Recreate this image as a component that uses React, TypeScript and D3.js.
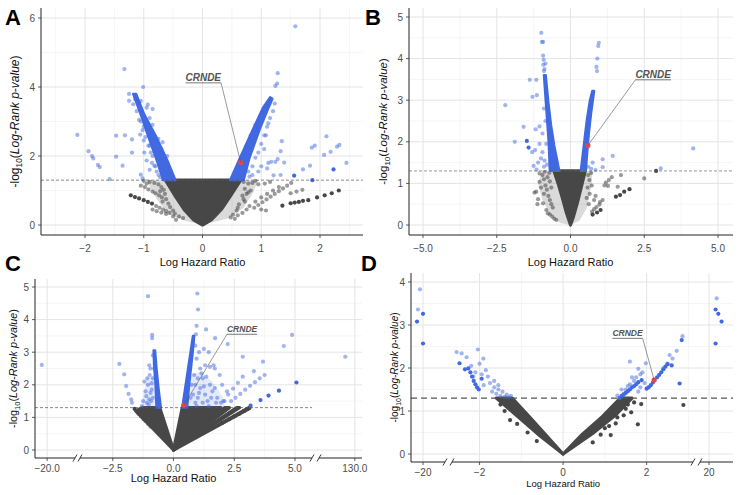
import React from 'react';
import * as d3 from 'd3';

type P = [number, number];

// ---------------- Panel A data ----------------
const aGrayCore: P[][] = [[[0, 0], [-0.15, 0.15], [-0.3, 0.42], [-0.45, 0.8], [-0.63, 1.3], [0.65, 1.3], [0.48, 0.85], [0.32, 0.45], [0.15, 0.15]]];
const aGrayHalo: P[][] = [
  [[0, 0], [-0.3, 0.12], [-0.55, 0.3], [-0.72, 0.6], [-0.85, 0.95], [-0.95, 1.3], [-0.63, 1.3]],
  [[0, 0], [0.65, 1.3], [0.95, 1.3], [0.85, 0.9], [0.7, 0.5], [0.45, 0.2]],
];
const aBlueArms: P[][] = [
  [[-0.67, 1.3], [-0.78, 1.88], [-0.93, 2.6], [-1.05, 3.2], [-1.18, 3.8], [-1.13, 3.8], [-0.99, 3.2], [-0.8, 2.6], [-0.6, 1.88], [-0.46, 1.3]],
  [[0.47, 1.3], [0.62, 1.88], [0.84, 2.7], [1.03, 3.4], [1.15, 3.7], [1.19, 3.66], [1.1, 3.3], [0.98, 2.8], [0.8, 1.95], [0.7, 1.3]],
];
const aBlueHalo: P[][] = [];
const aGrayPts: P[] = [
  [-1.05, 1.14], [-0.98, 1.1], [-0.92, 1.03], [-0.85, 0.97], [-0.8, 0.92], [-0.74, 0.86], [-0.69, 0.8],
  [-0.9, 1.25], [-0.82, 1.22], [-0.75, 1.18], [-0.7, 1.1], [-0.66, 1.02], [-0.72, 0.98], [-0.64, 0.9], [-0.62, 0.75],
  [-0.68, 0.68], [-0.58, 0.62], [-0.55, 0.52], [-0.5, 0.42], [-0.47, 0.33], [-0.4, 0.25], [-0.33, 0.2], [-0.5, 0.25],
  [-0.56, 0.35], [-0.62, 0.32], [-0.45, 0.15], [-0.85, 0.45], [-0.78, 0.4], [-0.7, 0.36], [-0.79, 0.55], [-0.73, 0.5],
  [-0.67, 0.45], [-0.62, 0.4], [-1.0, 1.28], [-0.95, 1.2],
  [0.7, 1.25], [0.78, 1.2], [0.85, 1.22], [0.9, 1.28], [0.95, 1.18], [0.72, 1.05], [0.78, 0.95], [0.75, 0.9],
  [0.82, 1.0], [0.68, 0.85], [0.7, 0.75], [0.72, 0.68], [0.62, 0.6], [0.6, 0.5], [0.58, 0.42], [0.52, 0.3],
  [0.48, 0.22], [0.6, 0.28], [0.68, 0.35], [0.75, 0.45], [0.8, 0.55], [0.9, 0.68], [0.55, 0.18],
  [0.88, 0.5], [0.95, 0.58], [1.02, 0.66], [1.09, 0.74], [1.16, 0.82], [1.23, 0.9], [1.3, 0.98], [1.37, 1.06],
  [1.44, 1.14], [1.51, 1.22], [1.0, 0.8], [1.1, 0.9], [1.2, 1.0], [1.3, 1.1], [1.08, 0.42], [1.0, 0.45],
  [1.5, 0.92], [1.6, 0.97], [1.7, 1.02], [1.06, 1.2], [1.15, 1.25],
];
const aGrayDark: P[] = [
  [-1.22, 0.86], [-1.15, 0.81], [-1.08, 0.77], [-1.0, 0.72], [-0.93, 0.67], [-0.86, 0.62],
  [1.36, 0.56], [1.5, 0.63], [1.57, 0.65], [1.64, 0.67], [1.71, 0.7], [1.8, 0.72], [1.95, 0.8], [2.08, 0.86], [2.2, 0.92], [2.32, 1.0],
];
const aBluePts: P[] = [
  [-2.13, 2.61], [-1.94, 2.14], [-1.88, 2.0], [-1.86, 1.93], [-1.78, 1.74], [-1.75, 1.68], [-1.58, 1.33], [-1.47, 2.59],
  [-1.47, 1.98], [-1.36, 1.72], [-1.33, 4.52], [-1.32, 2.6], [-1.2, 2.48], [-1.2, 2.1], [-1.01, 4.0], [-1.06, 2.62],
  [-1.05, 1.46], [-1.02, 1.35], [-0.93, 3.49], [-0.85, 3.36], [-0.95, 1.87], [-0.9, 1.6], [-1.15, 3.65], [-1.25, 3.8],
  [-1.08, 3.55], [-0.99, 2.1], [-0.9, 2.3], [-0.85, 2.0], [-0.82, 1.72], [-0.78, 1.55], [-0.75, 1.45], [-0.72, 1.38],
  [-0.86, 1.8], [-1.0, 2.45], [-1.02, 2.75], [-1.08, 3.05], [-0.68, 2.4], [-0.6, 2.0], [-0.55, 1.6],
  [-1.25, 3.6], [-1.18, 3.5], [-1.12, 3.3], [-1.05, 3.0], [-1.0, 2.85], [-0.97, 2.55], [-0.92, 2.3], [-0.88, 2.1],
  [-0.8, 1.7], [-0.7, 2.2], [-0.75, 2.5], [-0.85, 2.9], [-0.9, 3.1], [-0.95, 3.4], [-1.05, 3.6],
  [1.58, 5.76], [1.28, 4.4], [1.27, 4.1], [1.24, 4.03], [1.35, 2.43], [1.33, 2.14], [1.39, 1.81], [1.28, 1.91],
  [1.24, 1.83], [1.17, 1.83], [1.12, 1.8], [1.1, 1.64], [1.21, 1.44], [1.33, 1.45], [1.71, 1.61], [1.83, 1.72],
  [1.86, 2.24], [1.91, 2.3], [2.07, 2.03], [2.11, 2.57], [2.18, 2.12], [2.29, 2.27], [2.33, 2.32], [2.45, 1.8],
  [1.0, 1.7], [0.95, 1.55], [0.85, 1.45], [0.9, 1.95], [1.05, 2.2], [1.08, 2.6], [1.12, 2.95], [1.2, 3.3],
  [1.23, 3.52], [0.8, 1.4], [0.78, 1.55], [0.75, 2.3], [0.9, 2.8],
  [0.55, 1.5], [0.62, 1.75], [0.68, 2.0], [0.82, 2.6], [0.9, 2.9], [0.98, 3.15], [1.05, 3.35], [0.85, 1.7],
  [0.95, 2.1], [1.0, 2.35], [1.05, 2.6], [1.1, 2.85], [1.15, 3.1],
];
const aBlueDark: P[] = [[1.56, 1.43], [2.23, 1.61], [1.87, 1.3]];
const aCrnde: P = [0.65, 1.81];
const aLabel: P = [-0.29, 4.12];
const aXTicks = [-2, -1, 0, 1, 2];
const aXLabels = ['−2', '−1', '0', '1', '2'];
const aXMinor = [-2.5, -1.5, -0.5, 0.5, 1.5, 2.5];
const aYTicks = [0, 2, 4, 6];
const aYMinor = [1, 3, 5];

// ---------------- Panel B data ----------------
const bGrayCore: P[][] = [[[0, 0], [-0.14, 0.3], [-0.28, 0.66], [-0.42, 1.0], [-0.56, 1.3], [0.5, 1.3], [0.38, 0.95], [0.24, 0.55], [0.1, 0.2]]];
const bGrayHalo: P[][] = [
  [[0, 0], [-0.56, 1.3], [-0.95, 1.3], [-1.1, 1.0], [-0.95, 0.6], [-0.7, 0.25], [-0.35, 0.05]],
  [[0, 0], [0.5, 1.3], [0.75, 1.3], [0.7, 0.9], [0.55, 0.4], [0.3, 0.1]],
];
const bBlueArms: P[][] = [
  [[-0.7, 1.3], [-0.74, 2.0], [-0.8, 2.6], [-0.86, 3.2], [-0.9, 3.6], [-0.84, 3.6], [-0.76, 3.0], [-0.66, 2.4], [-0.55, 1.9], [-0.38, 1.3]],
  [[0.35, 1.3], [0.45, 1.9], [0.55, 2.5], [0.66, 3.0], [0.74, 3.22], [0.8, 3.22], [0.7, 2.7], [0.62, 2.2], [0.56, 1.7], [0.52, 1.3]],
];
const bBlueHalo: P[][] = [];
const bGrayPts: P[] = [
  [-1.16, 0.8], [-1.05, 1.04], [-1.22, 0.78], [-0.93, 0.52], [-0.82, 0.36], [-0.7, 0.25], [-0.48, 0.12], [-1.05, 1.24],
  [-0.95, 1.2], [-0.9, 1.1], [-0.85, 0.95], [-0.8, 0.85], [-0.75, 0.7], [-0.7, 0.6], [-0.65, 0.5], [-0.6, 0.42],
  [-0.9, 0.75], [-1.0, 0.9], [-0.77, 0.28], [-0.62, 0.2], [-0.55, 0.15], [-0.78, 1.15], [-0.7, 1.05], [-0.65, 0.9],
  [-0.88, 1.28], [-0.72, 1.25], [-1.1, 0.62], [-1.12, 0.5],
  [0.64, 1.08], [0.6, 1.2], [0.7, 1.25], [0.58, 0.9], [0.65, 0.75], [0.55, 0.65], [0.72, 0.95], [1.09, 0.6],
  [1.0, 0.55], [1.3, 1.08], [1.27, 0.94], [1.6, 0.92], [1.71, 1.2], [2.5, 1.12], [0.73, 0.32], [0.8, 0.38],
  [0.88, 0.43], [0.98, 0.49], [0.62, 0.5], [0.85, 0.7], [0.8, 0.6], [1.15, 0.95], [1.2, 1.02], [1.4, 1.15],
];
const bGrayDark: P[] = [[1.54, 0.68], [1.68, 0.72], [1.82, 0.8], [2.0, 0.86], [2.9, 1.3], [0.75, 0.25], [0.9, 0.3], [1.02, 0.36]];
const bBluePts: P[] = [
  [-0.99, 4.62], [-0.97, 4.4], [-0.93, 4.4], [-0.93, 4.07], [-0.91, 3.97], [-0.85, 3.88], [-0.88, 3.75], [-0.9, 3.7],
  [-0.92, 3.85], [-1.38, 3.49], [-1.16, 3.49],
  [-1.29, 3.08], [-1.14, 3.12], [-2.21, 2.88], [-1.59, 2.36], [-1.89, 2.0], [-1.2, 1.8], [-1.05, 2.37],
  [-0.95, 2.2], [-1.1, 1.5], [-1.25, 1.42], [-1.0, 1.6], [-0.95, 1.75], [-1.05, 1.95], [-0.88, 1.55], [-0.9, 1.4],
  [-0.85, 2.5], [-0.9, 2.8], [-0.82, 1.95], [-1.18, 2.3], [-1.3, 1.75], [-0.8, 1.45], [-1.15, 1.33],
  [0.96, 4.38], [0.94, 4.3], [0.91, 4.0], [0.88, 3.8], [0.9, 3.7], [1.09, 1.58], [1.09, 1.39], [1.43, 1.66],
  [3.06, 1.36], [4.16, 1.84], [0.6, 1.4], [0.75, 1.5], [0.7, 1.35], [0.85, 1.32],
];
const bBlueDark: P[] = [[-1.48, 2.02], [-1.42, 1.86]];
const bCrnde: P = [0.59, 1.91];
const bLabel: P = [2.2, 3.49];
const bXTicks = [-5, -2.5, 0, 2.5, 5];
const bXLabels = ['−5.0', '−2.5', '0.0', '2.5', '5.0'];
const bXMinor = [-3.75, -1.25, 1.25, 3.75];
const bYTicks = [0, 1, 2, 3, 4, 5];
const bYMinor = [0.5, 1.5, 2.5, 3.5, 4.5];

// ---------------- Panel C data ----------------
const cGrayCore: P[][] = [
  [[0, 0], [-1.55, 1.2], [-1.3, 1.3], [-0.57, 1.3]],
  [[0, 0], [0.36, 1.3], [1.95, 1.3]],
  [[0, 0], [2.1, 1.3], [2.3, 1.3]],
  [[0, 0], [2.6, 1.3], [2.72, 1.3]],
  [[0, 0], [3.1, 1.3], [3.14, 1.28]],
];
const cGrayHalo: P[][] = [];
const cBlueArms: P[][] = [
  [[-0.7, 1.3], [-0.74, 2.0], [-0.8, 2.6], [-0.82, 3.05], [-0.76, 3.05], [-0.7, 2.5], [-0.62, 1.9], [-0.52, 1.3]],
  [[0.36, 1.3], [0.5, 2.0], [0.62, 2.6], [0.72, 3.1], [0.8, 3.5], [0.85, 3.5], [0.79, 3.0], [0.7, 2.4], [0.63, 1.9], [0.56, 1.3]],
];
const cBlueHalo: P[][] = [
  [[-1.3, 1.3], [-1.25, 1.7], [-1.1, 2.2], [-0.75, 2.3], [-0.62, 1.3]],
  [[0.6, 1.3], [0.7, 2.3], [1.1, 2.4], [1.6, 2.1], [2.05, 1.6], [2.1, 1.3]],
];
const cGrayPts: P[] = [
  [-1.45, 1.12], [-1.35, 1.04], [-1.25, 0.96], [-1.15, 0.88], [-1.05, 0.8], [-0.95, 0.72], [-1.5, 1.18],
];
const cGrayDark: P[] = [
  [-1.6, 1.26], [-1.52, 1.19], [-1.42, 1.11], [-1.32, 1.03], [-1.22, 0.95],
  [2.0, 0.83], [2.3, 0.95], [2.5, 1.03], [2.7, 1.11], [2.9, 1.2], [3.05, 1.26],
];
const cBluePts: P[] = [
  [-20.22, 2.61], [-1.05, 4.72], [-2.23, 2.64], [-2.03, 2.32], [-1.95, 1.96], [-1.85, 1.72], [-1.74, 1.55], [-1.71, 1.45],
  [-0.88, 3.53], [-0.88, 3.43], [0.98, 4.8], [1.01, 4.31], [0.95, 3.81], [1.34, 3.7], [1.71, 3.43], [2.23, 3.25],
  [2.85, 2.86], [3.31, 2.42], [3.68, 2.71], [4.54, 3.19], [4.88, 3.53], [129.6, 2.86],
  [-1.25, 1.5], [-1.15, 1.8], [-1.2, 2.1], [-1.05, 2.0], [-0.95, 1.75], [-1.1, 1.45], [-0.98, 2.3], [-0.9, 2.05],
  [-1.0, 1.55], [-0.85, 1.6], [-0.9, 1.85], [-1.3, 1.35], [-0.8, 2.5], [-0.95, 2.5], [-1.0, 2.6], [-0.85, 2.9],
  [-1.12, 1.65], [-1.02, 1.4], [-0.92, 1.5], [-0.85, 2.2], [-1.08, 2.2],
  [0.8, 1.7], [0.9, 2.0], [1.0, 1.6], [1.1, 1.9], [1.2, 2.2], [1.3, 1.7], [1.4, 1.5], [1.5, 2.0], [1.6, 1.8],
  [1.7, 2.5], [1.8, 1.6], [1.9, 2.3], [2.0, 2.0], [1.3, 2.6], [1.1, 2.5], [0.95, 2.8], [1.5, 2.55], [1.65, 2.6],
  [1.2, 1.45], [0.85, 2.3], [1.05, 3.0], [0.9, 3.2], [1.15, 2.35], [2.1, 1.5], [2.2, 1.8], [1.45, 3.0], [1.25, 3.1],
  [1.0, 2.2], [0.75, 2.0], [0.7, 1.6], [0.8, 3.3], [0.92, 3.55], [0.9, 1.45], [1.05, 1.75], [1.25, 1.95],
  [1.35, 2.25], [1.55, 1.6], [1.7, 1.9], [1.45, 1.35], [1.75, 1.45], [1.95, 1.45], [0.95, 1.35],
  [2.37, 1.5], [2.55, 1.6], [2.75, 1.72], [2.95, 1.85], [3.15, 1.97], [3.35, 2.08], [3.55, 2.2], [3.75, 2.3],
  [2.05, 1.5], [2.25, 1.7], [2.45, 1.88], [2.65, 2.06], [2.85, 2.25],
];
const cBlueDark: P[] = [[3.17, 1.36], [3.58, 1.53], [3.91, 1.67], [4.34, 1.82], [5.06, 2.07]];
const cCrnde: P = [0.43, 1.38];
const cLabel: P = [2.2, 3.55];
const cXTicks = [-20, -2.5, 0, 2.5, 5, 130];
const cXLabels = ['−20.0', '−2.5', '0.0', '2.5', '5.0', '130.0'];
const cXMinor = [-1.25, 1.25, 3.75];
const cYTicks = [0, 1, 2, 3, 4, 5];
const cYMinor = [0.5, 1.5, 2.5, 3.5, 4.5];

// ---------------- Panel D data ----------------
const dGrayCore: P[][] = [
  [[0, 0], [-0.55, 0.42], [-1.05, 0.84], [-1.6, 1.3], [-1.22, 1.3], [-0.8, 0.86], [-0.4, 0.43]],
  [[0, 0], [0.45, 0.45], [0.95, 0.88], [1.37, 1.3], [1.65, 1.3], [1.25, 0.9], [0.7, 0.47]],
];
const dGrayHalo: P[][] = [];
const dBlueArms: P[][] = [];
const dBlueHalo: P[][] = [];
const dGrayPts: P[] = [];
const dGrayDark: P[] = [
  [0.71, 0.27], [1.14, 0.44], [1.26, 0.71], [1.63, 0.97], [1.79, 0.69], [1.87, 1.16], [2.88, 1.14], [-1.27, 0.79],
  [-0.63, 0.3], [1.5, 1.05], [1.55, 1.15], [1.7, 1.2], [1.45, 0.9], [1.0, 0.6], [1.3, 0.85], [-1.4, 1.0],
  [-1.5, 1.15], [-1.1, 0.7], [1.1, 0.65], [0.9, 0.45], [-0.85, 0.5],
];
const dBluePts: P[] = [
  [-2.55, 2.37], [-2.43, 2.34], [-2.31, 2.25], [-2.04, 2.43], [-1.91, 2.22], [-2.2, 2.05], [-2.1, 1.9],
  [-1.95, 1.85], [-1.85, 1.95], [-1.8, 1.8], [-1.75, 1.65], [-1.9, 1.6], [-1.65, 1.55], [-1.7, 1.45], [-1.6, 1.4],
  [-1.55, 1.5], [-1.5, 1.35], [-1.45, 1.45], [-1.4, 1.33], [-1.35, 1.38], [-1.3, 1.32], [-2.0, 2.1],
  [-1.65, 1.7], [-2.15, 1.8], [-1.55, 1.6], [-1.25, 1.35],
  [1.6, 2.15], [1.98, 2.11], [1.45, 1.4], [1.5, 1.5], [1.55, 1.58], [1.6, 1.62], [1.7, 1.7], [1.75, 1.78],
  [1.85, 1.85], [1.9, 1.9], [1.8, 1.98], [1.65, 1.78], [1.4, 1.5], [1.3, 1.36], [1.85, 1.55], [1.95, 1.65],
  [2.5, 2.1], [2.55, 2.3], [2.62, 2.22], [2.72, 2.4], [2.86, 2.74], [2.4, 2.0], [1.8, 1.45],
  [-20.38, 3.83], [-20.63, 3.36], [21.28, 3.62],
];
const dBlueDark: P[] = [
  [-2.48, 2.11], [-2.35, 1.97], [-2.27, 1.99], [-2.22, 1.9], [-2.18, 1.8], [-2.14, 1.7], [-2.1, 1.62], [-2.06, 1.55],
  [-2.02, 1.5], [-1.95, 1.75],
  [1.35, 1.3], [1.4, 1.35], [1.45, 1.38], [1.5, 1.42], [1.55, 1.46], [1.6, 1.5], [1.65, 1.55], [1.7, 1.58],
  [1.75, 1.62], [1.8, 1.67], [1.88, 1.72],
  [2.0, 1.52], [2.05, 1.55], [2.1, 1.6], [2.15, 1.66], [2.25, 1.78], [2.3, 1.84], [2.35, 1.9], [2.4, 1.97],
  [2.45, 2.03], [2.5, 2.09], [2.6, 2.06], [2.84, 2.65], [2.79, 1.64],
  [-20.75, 3.08], [-20.0, 3.26], [-20.0, 2.57], [21.1, 3.36], [21.55, 3.26], [22.1, 3.08], [21.1, 2.57],
];
const dCrnde: P = [2.18, 1.72];
const dLabel: P = [1.18, 2.69];
const dXTicks = [-20, -2, 0, 2, 20];
const dXLabels = ['−20', '−2', '0', '2', '20'];
const dXMinor = [-1, 1, 3];
const dYTicks = [0, 1, 2, 3, 4];
const dYMinor = [0.5, 1.5, 2.5, 3.5];

const THRESH = 1.3;
const BLUE = '#4169E1';
const GRAY = '#474747';
const RED = '#E5464B';

type Cfg = {
  letter: string; letterX: number; letterY: number;
  l: number; r: number; t: number; b: number;
  xDomain: number[]; xRange: number[]; yDomain: number[]; yRange: number[];
  segments: number[][];
  xTicks: number[]; xLabels: string[]; xMinor: number[]; yTicks: number[]; yMinor: number[];
  tickY: number; titleY: number; titleFs: number; yTitleX: number; yTitleFs: number; tickFs: number;
  grayCore: P[][]; grayHalo: P[][]; blueArms: P[][]; blueHalo: P[][];
  grayPts: P[]; grayDark: P[]; bluePts: P[]; blueDark: P[];
  crnde: P; label: P; labelSide: 'left' | 'right'; labelFs: number;
  dashW: number; dash: string; dashEnd: number; dashColor: string;
};

const Panel = ({ c }: { c: Cfg }) => {
  const x = d3.scaleLinear().domain(c.xDomain).range(c.xRange);
  const y = d3.scaleLinear().domain(c.yDomain).range(c.yRange);
  const line = d3.line<P>().x(d => x(d[0])).y(d => y(d[1]));
  const poly = (p: P[]) => (line(p) || '') + 'Z';
  const R = 2.1;
  const lx = x(c.label[0]);
  const ly = y(c.label[1]);
  const lw = c.labelFs * 3.56;
  const attachX = c.labelSide === 'left' ? lx : lx + lw;
  const gaps: number[][] = [];
  for (let i = 0; i < c.segments.length - 1; i++) gaps.push([c.segments[i][1], c.segments[i + 1][0]]);
  const yMid = (c.t + c.b) / 2;
  return (
    <g>
      {c.yMinor.map(v => <line key={'ym' + v} x1={c.l} x2={c.r} y1={y(v)} y2={y(v)} stroke="#F0F0F0" strokeWidth={0.7} />)}
      {c.xMinor.map(v => <line key={'xm' + v} x1={x(v)} x2={x(v)} y1={c.t} y2={c.b} stroke="#F0F0F0" strokeWidth={0.7} />)}
      {c.yTicks.map(v => <line key={'yg' + v} x1={c.l} x2={c.r} y1={y(v)} y2={y(v)} stroke="#E4E4E4" strokeWidth={1} />)}
      {c.xTicks.map(v => <line key={'xg' + v} x1={x(v)} x2={x(v)} y1={c.t} y2={c.b} stroke="#E4E4E4" strokeWidth={1} />)}
      {c.grayHalo.map((p, i) => <path key={'gh' + i} d={poly(p)} fill={GRAY} fillOpacity={0.2} />)}
      {c.grayPts.map((p, i) => <circle key={'gp' + i} cx={x(p[0])} cy={y(p[1])} r={R} fill={GRAY} fillOpacity={0.55} />)}
      {c.grayCore.map((p, i) => <path key={'gc' + i} d={poly(p)} fill={GRAY} stroke={GRAY} strokeWidth={3.2} strokeLinejoin="round" />)}
      {c.grayDark.map((p, i) => <circle key={'gd' + i} cx={x(p[0])} cy={y(p[1])} r={R} fill={GRAY} />)}
      {c.blueHalo.map((p, i) => <path key={'bh' + i} d={poly(p)} fill={BLUE} fillOpacity={0.14} />)}
      {c.blueArms.map((p, i) => <path key={'ba' + i} d={poly(p)} fill={BLUE} stroke={BLUE} strokeWidth={2.4} strokeLinejoin="round" />)}
      {c.bluePts.map((p, i) => <circle key={'bp' + i} cx={x(p[0])} cy={y(p[1])} r={R} fill={BLUE} fillOpacity={0.5} />)}
      {c.blueDark.map((p, i) => <circle key={'bd' + i} cx={x(p[0])} cy={y(p[1])} r={R} fill={BLUE} />)}
      <circle cx={x(c.crnde[0])} cy={y(c.crnde[1])} r={2.6} fill={RED} />
      <line x1={c.l} x2={c.dashEnd} y1={y(THRESH)} y2={y(THRESH)} stroke={c.dashColor} strokeWidth={c.dashW} strokeDasharray={c.dash} />
      <line x1={attachX} y1={ly} x2={x(c.crnde[0])} y2={y(c.crnde[1])} stroke="#555" strokeWidth={0.6} />
      <line x1={lx} x2={lx + lw} y1={ly} y2={ly} stroke="#555" strokeWidth={0.8} />
      <text x={lx} y={ly - 2} fontSize={c.labelFs} fontStyle="italic" fontWeight="bold" fill="#555" textLength={lw} lengthAdjust="spacingAndGlyphs">CRNDE</text>
      <line x1={c.l} x2={c.l} y1={c.t} y2={c.b} stroke="#222" strokeWidth={1} />
      {c.segments.map((s, i) => <line key={'seg' + i} x1={s[0]} x2={s[1]} y1={c.b} y2={c.b} stroke="#222" strokeWidth={1} />)}
      {gaps.map((g, i) => (
        <g key={'gap' + i}>
          <line x1={g[0] - 2} x2={g[0] + 2} y1={c.b + 3.5} y2={c.b - 3.5} stroke="#222" strokeWidth={0.9} />
          <line x1={g[1] - 2} x2={g[1] + 2} y1={c.b + 3.5} y2={c.b - 3.5} stroke="#222" strokeWidth={0.9} />
        </g>
      ))}
      {c.yTicks.map(v => (
        <g key={'yt' + v}>
          <line x1={c.l - 3} x2={c.l} y1={y(v)} y2={y(v)} stroke="#333" strokeWidth={0.8} />
          <text x={c.l - 6} y={y(v)} dy="0.35em" textAnchor="end" fontSize={c.tickFs} fill="#4D4D4D">{v}</text>
        </g>
      ))}
      {c.xTicks.map((v, i) => (
        <g key={'xt' + v}>
          <line x1={x(v)} x2={x(v)} y1={c.b} y2={c.b + 3} stroke="#333" strokeWidth={0.8} />
          <text x={x(v)} y={c.tickY} dy="0.35em" textAnchor="middle" fontSize={c.tickFs} fill="#4D4D4D">{c.xLabels[i]}</text>
        </g>
      ))}
      <text x={x(0)} y={c.titleY} dy="0.35em" textAnchor="middle" fontSize={c.titleFs} fill="#111">Log Hazard Ratio</text>
      <text transform={`translate(${c.yTitleX},${yMid}) rotate(-90)`} textAnchor="middle" dy="0.35em" fontSize={c.yTitleFs} fill="#111">
        -log<tspan fontSize={c.yTitleFs * 0.7} dy={3}>10</tspan><tspan dy={-3}>(</tspan><tspan fontStyle="italic">Log-Rank p-value</tspan>)
      </text>
      <text x={c.letterX} y={c.letterY} fontSize={22} fontWeight="bold" fill="#000">{c.letter}</text>
    </g>
  );
};

const base = { tickFs: 10, titleFs: 11 };

const cfgA: Cfg = {
  ...base, letter: 'A', letterX: 5, letterY: 25,
  l: 41, r: 363, t: 8, b: 235,
  xDomain: [-2, 2], xRange: [85, 320], yDomain: [0, 6], yRange: [225, 18],
  segments: [[41, 363]],
  xTicks: aXTicks, xLabels: aXLabels, xMinor: aXMinor, yTicks: aYTicks, yMinor: aYMinor,
  tickY: 248, titleY: 262, yTitleX: 15, yTitleFs: 12,
  grayCore: aGrayCore, grayHalo: aGrayHalo, blueArms: aBlueArms, blueHalo: aBlueHalo,
  grayPts: aGrayPts, grayDark: aGrayDark, bluePts: aBluePts, blueDark: aBlueDark,
  crnde: aCrnde, label: aLabel, labelSide: 'right', labelFs: 10,
  dashW: 0.7, dash: '3,2', dashEnd: 363, dashColor: '#555',
};
const cfgB: Cfg = {
  ...base, letter: 'B', letterX: 365, letterY: 25,
  l: 409, r: 733, t: 8, b: 235,
  xDomain: [-5, 5], xRange: [423, 718], yDomain: [0, 5], yRange: [225, 17],
  segments: [[409, 733]],
  xTicks: bXTicks, xLabels: bXLabels, xMinor: bXMinor, yTicks: bYTicks, yMinor: bYMinor,
  tickY: 248, titleY: 262, yTitleX: 383, yTitleFs: 11.5,
  grayCore: bGrayCore, grayHalo: bGrayHalo, blueArms: bBlueArms, blueHalo: bBlueHalo,
  grayPts: bGrayPts, grayDark: bGrayDark, bluePts: bBluePts, blueDark: bBlueDark,
  crnde: bCrnde, label: bLabel, labelSide: 'left', labelFs: 10,
  dashW: 0.7, dash: '3,2', dashEnd: 733, dashColor: '#666',
};
const cfgC: Cfg = {
  ...base, letter: 'C', letterX: 5, letterY: 271,
  l: 35, r: 362, t: 279, b: 458,
  xDomain: [-20.5, -18.85, -3.85, 5.7, 128.5, 130.3], xRange: [35, 75, 80, 312, 319, 362],
  yDomain: [0, 5], yRange: [450, 287],
  segments: [[35, 75], [80, 312], [319, 362]],
  xTicks: cXTicks, xLabels: cXLabels, xMinor: cXMinor, yTicks: cYTicks, yMinor: cYMinor,
  tickY: 468, titleY: 478.5, yTitleX: 13, yTitleFs: 10.8,
  grayCore: cGrayCore, grayHalo: cGrayHalo, blueArms: cBlueArms, blueHalo: cBlueHalo,
  grayPts: cGrayPts, grayDark: cGrayDark, bluePts: cBluePts, blueDark: cBlueDark,
  crnde: cCrnde, label: cLabel, labelSide: 'left', labelFs: 8.5,
  dashW: 0.7, dash: '3,2', dashEnd: 312, dashColor: '#555',
};
const cfgD: Cfg = {
  ...base, letter: 'D', letterX: 361, letterY: 271, titleFs: 9.5,
  l: 411, r: 733, t: 273, b: 462,
  xDomain: [-21.5, -17.25, -2.66, 3.11, 18.5, 24], xRange: [411, 445, 452, 693, 700, 733],
  yDomain: [0, 4], yRange: [454, 282],
  segments: [[411, 445], [452, 693], [700, 733]],
  xTicks: dXTicks, xLabels: dXLabels, xMinor: dXMinor, yTicks: dYTicks, yMinor: dYMinor,
  tickY: 472, titleY: 484, yTitleX: 394, yTitleFs: 10,
  grayCore: dGrayCore, grayHalo: dGrayHalo, blueArms: dBlueArms, blueHalo: dBlueHalo,
  grayPts: dGrayPts, grayDark: dGrayDark, bluePts: dBluePts, blueDark: dBlueDark,
  crnde: dCrnde, label: dLabel, labelSide: 'right', labelFs: 8.5,
  dashW: 1.4, dash: '6,4', dashEnd: 733, dashColor: '#555',
};

export default function App() {
  return (
    <svg width={741} height={495} viewBox="0 0 741 495"
      style={{ position: 'absolute', left: 0, top: 0, background: '#fff', fontFamily: '"Liberation Sans", Arial, Helvetica, sans-serif' }}>
      <rect width={741} height={495} fill="#fff" />
      <Panel c={cfgA} />
      <Panel c={cfgB} />
      <Panel c={cfgC} />
      <Panel c={cfgD} />
    </svg>
  );
}
